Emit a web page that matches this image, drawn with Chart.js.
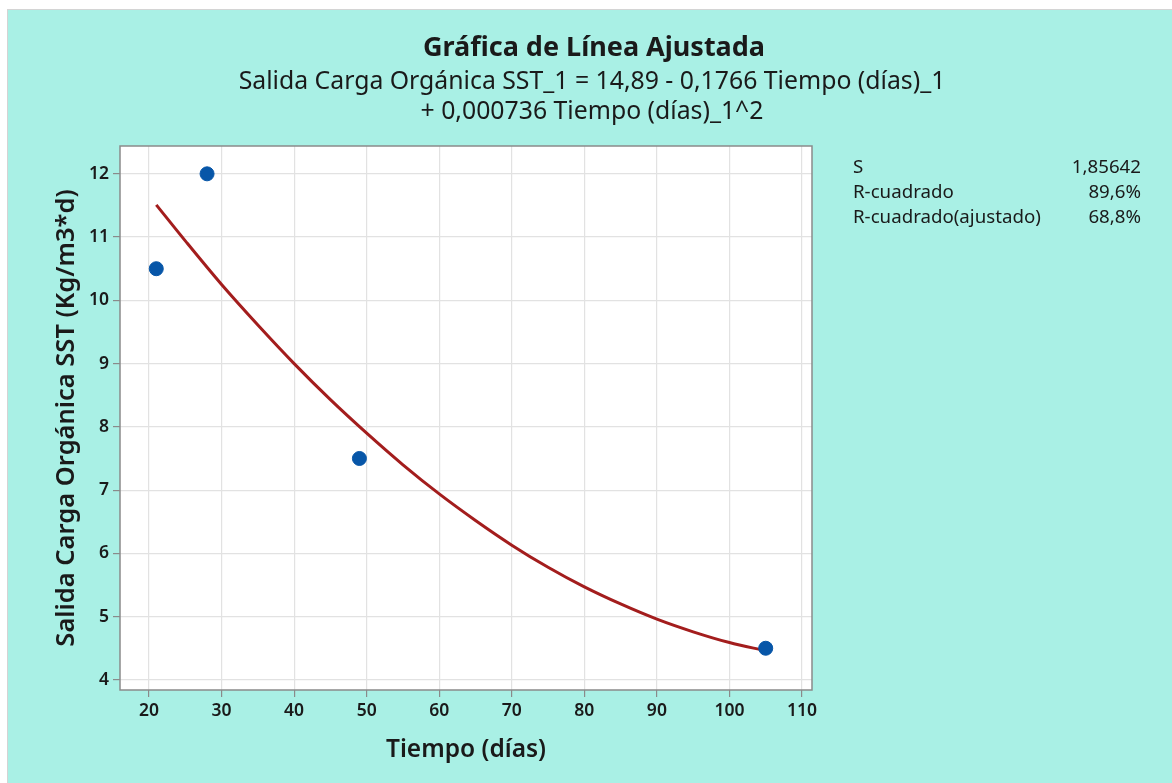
<!DOCTYPE html>
<html>
<head>
<meta charset="utf-8">
<script src="https://cdn.jsdelivr.net/npm/chart.js@4.4.1/dist/chart.umd.min.js"></script>
<style>
  html, body { margin: 0; padding: 0; background: #ffffff; }
  #wrap { position: absolute; left: 0; top: 0; width: 1172px; height: 783px; }
</style>
</head>
<body>
<div id="wrap"><canvas id="c" width="1172" height="783"></canvas></div>
<script>
// Observed data: time (days) vs. organic load SST at the outlet
const tiempoDias = [21, 28, 49, 105];
const cargaSST = [10.5, 12.0, 7.5, 4.5];

// Fitted quadratic regression line, sampled along the time axis
const ajusteX = [21, 25, 30, 35, 40, 45, 50, 55, 60, 65, 70, 75, 80, 85, 90, 95, 100, 105];
const ajusteY = [11.51, 10.94, 10.25, 9.61, 9.00, 8.43, 7.90, 7.40, 6.94, 6.52, 6.13, 5.78, 5.47, 5.20, 4.96, 4.76, 4.59, 4.46];

// Axis ticks
const xTicks = [20, 30, 40, 50, 60, 70, 80, 90, 100, 110];
const yTicks = [4, 5, 6, 7, 8, 9, 10, 11, 12];

// Model summary
const statLabels = ['S', 'R-cuadrado', 'R-cuadrado(ajustado)'];
const statValues = ['1,85642', '89,6%', '68,8%'];

const titulo = 'Gráfica de Línea Ajustada';
const subtitulo = ['Salida Carga Orgánica SST_1 = 14,89 - 0,1766 Tiempo (días)_1', '+ 0,000736 Tiempo (días)_1^2'];

const FONT = "'Noto Sans', 'Open Sans', sans-serif";
const BG = '#a9f0e5';

const frame = {
  id: 'frame',
  beforeDraw(chart) {
    const ctx = chart.ctx;
    const a = chart.chartArea;
    ctx.save();
    ctx.fillStyle = '#ffffff';
    ctx.fillRect(0, 0, chart.width, chart.height);
    ctx.fillStyle = '#d4d4d4';
    ctx.fillRect(7, 9, chart.width - 7, chart.height - 9);
    ctx.fillStyle = BG;
    ctx.fillRect(8, 10, chart.width - 8, chart.height - 10);
    ctx.fillStyle = '#ffffff';
    ctx.fillRect(a.left, a.top, a.right - a.left, a.bottom - a.top);
    ctx.restore();
  },
  afterDraw(chart) {
    const ctx = chart.ctx;
    const a = chart.chartArea;
    ctx.save();
    ctx.strokeStyle = '#8a8a8a';
    ctx.lineWidth = 1.5;
    ctx.strokeRect(a.left, a.top, a.right - a.left, a.bottom - a.top);

    // Title and equation
    ctx.fillStyle = '#1a1a1a';
    ctx.textAlign = 'center';
    ctx.textBaseline = 'middle';
    ctx.font = 'bold 27px ' + FONT;
    ctx.fillText(titulo, 594, 48);
    ctx.font = '24.8px ' + FONT;
    ctx.fillText(subtitulo[0], 592, 82);
    ctx.fillText(subtitulo[1], 592, 112);

    // Model summary table
    ctx.font = '18.7px ' + FONT;
    const rowsY = [168, 193, 218];
    statLabels.forEach((lab, i) => {
      ctx.textAlign = 'left';
      ctx.fillText(lab, 853, rowsY[i]);
      ctx.textAlign = 'right';
      ctx.fillText(statValues[i], 1141, rowsY[i]);
    });
    ctx.restore();
  }
};

new Chart(document.getElementById('c'), {
  type: 'scatter',
  data: {
    datasets: [
      {
        label: 'Ajuste',
        type: 'line',
        data: ajusteX.map((x, i) => ({ x, y: ajusteY[i] })),
        borderColor: '#a31d1d',
        borderWidth: 3,
        pointRadius: 0,
        fill: false,
        cubicInterpolationMode: 'monotone',
        order: 2
      },
      {
        label: 'Datos',
        data: tiempoDias.map((x, i) => ({ x, y: cargaSST[i] })),
        backgroundColor: '#0756a8',
        borderColor: '#0756a8',
        pointRadius: 7,
        order: 1
      }
    ]
  },
  options: {
    responsive: false,
    animation: false,
    events: [],
    layout: { padding: { left: 0, top: 146, right: 360, bottom: 0 } },
    plugins: {
      legend: { display: false },
      tooltip: { enabled: false },
      title: { display: false }
    },
    scales: {
      x: {
        type: 'linear',
        min: 16.0,
        max: 111.38,
        afterBuildTicks: (s) => { s.ticks = xTicks.map(v => ({ value: v })); },
        afterFit: (s) => { s.height = 93; },
        grid: { color: '#e2e2e2', lineWidth: 1.2, drawTicks: true, tickLength: 7, tickColor: '#8a8a8a' },
        border: { display: false },
        ticks: { color: '#1a1a1a', font: { family: FONT, size: 17.5, weight: '600' }, padding: 4, maxRotation: 0 },
        title: { display: true, text: 'Tiempo (días)', color: '#1a1a1a', font: { family: FONT, size: 24.5, weight: '600' }, padding: { top: 0, bottom: 18 } }
      },
      y: {
        type: 'linear',
        min: 3.84,
        max: 12.44,
        afterBuildTicks: (s) => { s.ticks = yTicks.map(v => ({ value: v })); },
        afterFit: (s) => { s.width = 120; },
        grid: { color: '#e2e2e2', lineWidth: 1.2, drawTicks: true, tickLength: 7, tickColor: '#8a8a8a' },
        border: { display: false },
        ticks: { color: '#1a1a1a', font: { family: FONT, size: 17.5, weight: '600' }, padding: 4 },
        title: { display: true, text: 'Salida Carga Orgánica SST (Kg/m3*d)', color: '#1a1a1a', font: { family: FONT, size: 25.5, weight: '600' }, padding: { top: 51, bottom: 0 } }
      }
    }
  },
  plugins: [frame]
});
</script>
</body>
</html>
